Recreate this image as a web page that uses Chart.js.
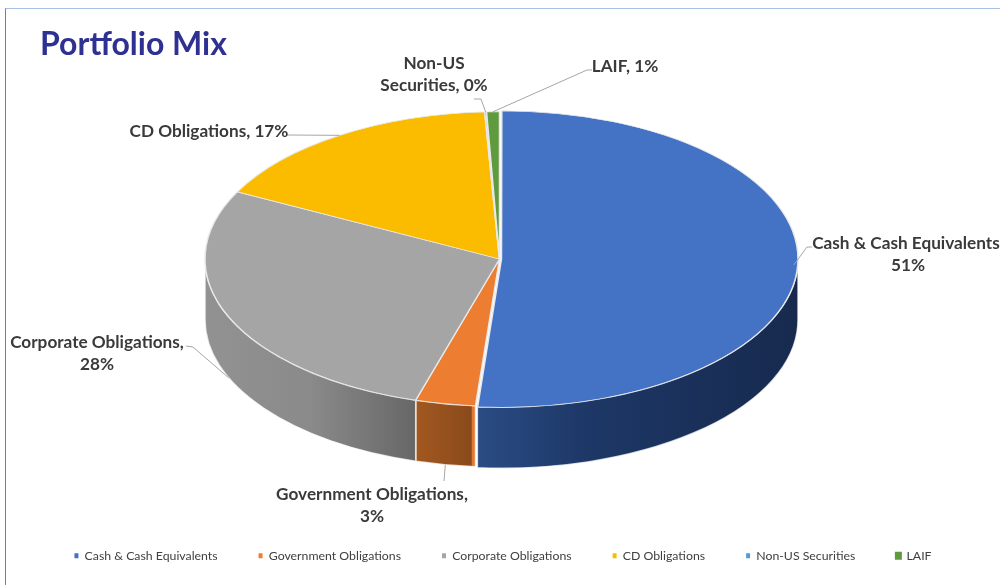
<!DOCTYPE html>
<html>
<head>
<meta charset="utf-8">
<title>Portfolio Mix</title>
<script src="https://cdn.jsdelivr.net/npm/chart.js@4/dist/chart.umd.min.js"></script>
<style>
  html, body { margin: 0; padding: 0; background: #fff; overflow: hidden; }
  #wrap { position: relative; width: 1000px; height: 585px; }
  #frame { position: absolute; left: 5px; top: 8px; right: 0; bottom: 0;
           border-left: 1px solid #5b83c6; border-top: 1px solid #a9c0e6; }
  canvas { position: absolute; left: 0; top: 0; }
</style>
</head>
<body>
<div id="wrap">
  <div id="frame"></div>
  <canvas id="chart" width="1000" height="585"></canvas>
</div>
<script>
const categories = ['Cash & Cash Equivalents', 'Government Obligations', 'Corporate Obligations', 'CD Obligations', 'Non-US Securities', 'LAIF'];
const shares = [51.4, 3.3, 28.0, 16.7, 0.1, 0.7];
const colors = ['#4472c4', '#ed7d31', '#a5a5a5', '#fbbc00', '#5b9bd5', '#5f9a3e'];

// side wall gradients, left to right
const wallStops = [
  [[0, '#2a4c84'], [0.35, '#1d3766'], [1, '#172a4e']],
  [[0, '#a2581f'], [0.93, '#8a4a1c'], [0.94, '#e07a30'], [1, '#e07a30']],
  [[0, '#929292'], [0.5, '#8a8a8a'], [1, '#676767']],
  [[0, '#fbbc00'], [1, '#fbbc00']],
  [[0, '#5b9bd5'], [1, '#5b9bd5']],
  [[0, '#5f9a3e'], [1, '#5f9a3e']]
];

// label layout: centre x, first row y, words on the first row
const labelX = [908, 372, 97, 209, 434, 625];
const labelY = [243, 494, 342, 131, 63, 66];
const labelWords = [4, 2, 2, 9, 1, 9];
// leader elbows next to each label, [x, y] pairs
const leaderElbows = [
  [[807, 247], [812, 247]],
  [[444, 481]],
  [[193, 347], [186, 346]],
  [[287, 135]],
  [[481, 99], [474, 99]],
  [[587, 70], [592, 70]]
];
// legend box border widths, the last one is drawn heavier
const legendBorders = [0, 0, 0, 0, 0, 3];

const CENTER_Y = 259;
const SQUASH = 0.5;
const DEPTH = 61;

function rimPoint(arc, angle, radius) {
  return {
    x: arc.x + Math.cos(angle) * radius,
    y: CENTER_Y + Math.sin(angle) * radius * SQUASH
  };
}

const pieDepth = {
  id: 'pieDepth',
  afterLayout(chart) {
    // the padding has to leave the legend room, so nudge these two back
    chart.titleBlock.left = 40;
    chart.legend.left += 3.5;
    chart.legend.right += 3.5;
  },
  beforeDatasetsDraw(chart) {
    const ctx = chart.ctx;
    const arcs = chart.getDatasetMeta(0).data;
    arcs.forEach((arc, i) => {
      // only the part of the rim facing the viewer shows a wall
      const start = Math.max(arc.startAngle, 0);
      const end = Math.min(arc.endAngle, Math.PI);
      if (end <= start) return;
      const off = (arc.options.offset || 0) / 4;
      const mid = (arc.startAngle + arc.endAngle) / 2;
      const r = arc.outerRadius + off;
      const cx = arc.x + Math.cos(mid) * off;
      const cy = CENTER_Y + Math.sin(mid) * off * SQUASH;
      const grad = ctx.createLinearGradient(cx + Math.cos(end) * r, 0, cx + Math.cos(start) * r, 0);
      wallStops[i].forEach(s => grad.addColorStop(s[0], s[1]));
      ctx.save();
      ctx.beginPath();
      ctx.ellipse(cx, cy, r, r * SQUASH, 0, start, end);
      ctx.ellipse(cx, cy + DEPTH, r, r * SQUASH, 0, end, start, true);
      ctx.closePath();
      ctx.fillStyle = grad;
      ctx.fill();
      ctx.strokeStyle = 'rgba(255,255,255,0.75)';
      ctx.lineWidth = 1.5;
      ctx.stroke();
      ctx.restore();
    });
    // flatten the pie into an ellipse
    const first = arcs[0];
    ctx.save();
    ctx.translate(first.x, CENTER_Y);
    ctx.scale(1, SQUASH);
    ctx.translate(-first.x, -first.y);
  },
  afterDatasetsDraw(chart) {
    const ctx = chart.ctx;
    ctx.restore();
    const arcs = chart.getDatasetMeta(0).data;

    // leader lines
    ctx.save();
    ctx.strokeStyle = '#a6a6a6';
    ctx.lineWidth = 1;
    arcs.forEach((arc, i) => {
      const mid = (arc.startAngle + arc.endAngle) / 2;
      const p = rimPoint(arc, mid, arc.outerRadius);
      const wallDrop = (Math.sin(mid) > 0.05) ? DEPTH : 0;
      ctx.beginPath();
      ctx.moveTo(p.x, p.y + wallDrop);
      leaderElbows[i].forEach(e => ctx.lineTo(e[0], e[1]));
      ctx.stroke();
    });
    ctx.restore();

    // data labels
    ctx.save();
    ctx.font = 'bold 17.2px Lato';
    ctx.fillStyle = '#3a3a3a';
    ctx.textAlign = 'center';
    ctx.textBaseline = 'middle';
    categories.forEach((name, i) => {
      const words = (name + ',').split(' ').concat(Math.round(shares[i]) + '%');
      const n = labelWords[i];
      ctx.fillText(words.slice(0, n).join(' '), labelX[i], labelY[i]);
      if (n < words.length) ctx.fillText(words.slice(n).join(' '), labelX[i], labelY[i] + 22);
    });
    ctx.restore();
  }
};

new Chart(document.getElementById('chart'), {
  type: 'pie',
  data: {
    labels: categories,
    datasets: [{
      data: shares,
      backgroundColor: colors,
      borderColor: '#e9e9e9',
      borderWidth: 1.5,
      offset: [8, 0, 0, 0, 0, 0],
      clip: false
    }]
  },
  options: {
    responsive: false,
    animation: false,
    radius: 294.5,
    layout: { padding: { left: 20, right: 21, top: 0, bottom: 13 } },
    plugins: {
      title: {
        display: true,
        text: 'Portfolio Mix',
        align: 'start',
        color: '#2e3192',
        font: { family: 'Lato', size: 32, weight: 'bold' },
        padding: { top: 25, bottom: 0 }
      },
      legend: {
        position: 'bottom',
        labels: {
          boxWidth: 4,
          boxHeight: 5,
          padding: 41,
          color: '#404040',
          font: { family: 'Lato', size: 12.3 },
          generateLabels(chart) {
            const items = Chart.overrides.pie.plugins.legend.labels.generateLabels(chart);
            items.forEach((item, i) => {
              item.strokeStyle = item.fillStyle;
              item.lineWidth = legendBorders[i];
            });
            return items;
          }
        }
      },
      tooltip: { enabled: false }
    }
  },
  plugins: [pieDepth]
});
</script>
</body>
</html>
